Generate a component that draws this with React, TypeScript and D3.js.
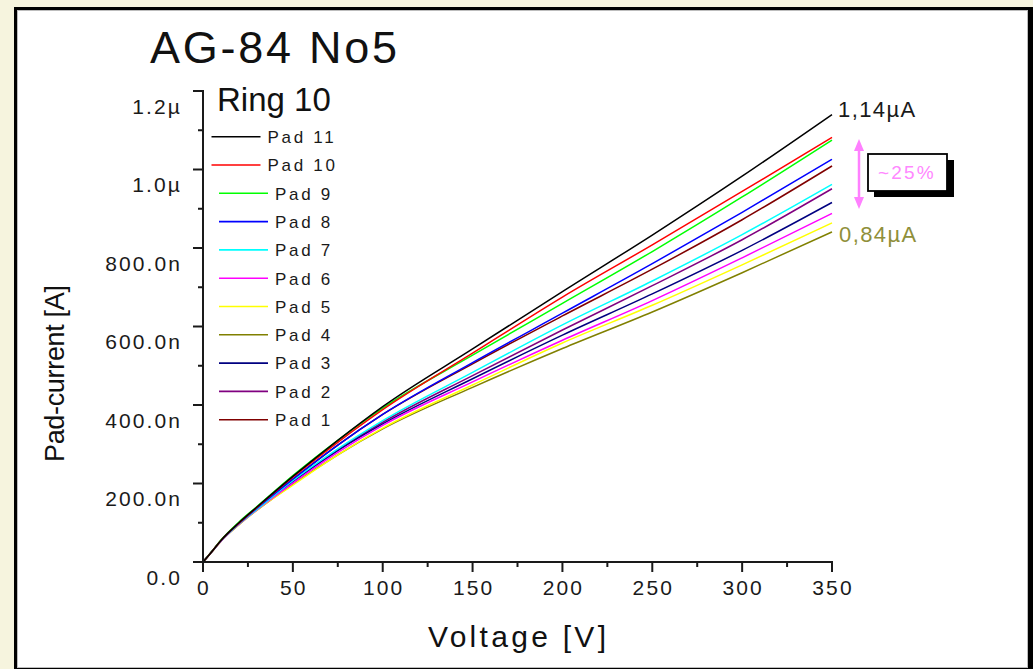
import React from "react";
import * as d3 from "d3";

const voltages = [0, 5, 10, 20, 30, 50, 75, 100, 150, 200, 250, 300, 350];

const pad11 = [0, 27, 55, 100, 140, 218, 310, 396, 543, 689, 833, 983, 1140];
const pad10 = [0, 27, 55, 99, 139, 216, 305, 388, 532, 675, 808, 944, 1082];
const pad9 = [0, 27.5, 56, 102, 141, 220, 310, 392, 527, 659, 791, 930, 1075];
const pad8 = [0, 26.7, 54.5, 98, 137, 211, 298, 376, 508, 634, 760, 891, 1026];
const pad7 = [0, 26.7, 54, 97, 134, 207, 288, 360, 483, 604, 716, 834, 962];
const pad6 = [0, 26.5, 53, 96, 133, 201, 279, 348, 459, 565, 666, 775, 888];
const pad5 = [0, 26, 53, 95, 132, 196, 273, 341, 451, 558, 654, 757, 864];
const pad4 = [0, 26.5, 53, 95, 132, 198, 273, 339, 445, 544, 637, 737, 841];
const pad3 = [0, 26.7, 54, 97, 134, 205, 284, 352, 467, 578, 683, 794, 916];
const pad2 = [0, 26.5, 54, 97, 134, 205, 285, 356, 475, 591, 704, 821, 951];
const pad1 = [0, 27, 54.5, 98, 137, 211, 298, 376, 505, 627, 746, 872, 1009];

const seriesNames = ["Pad 11", "Pad 10", "Pad 9", "Pad 8", "Pad 7", "Pad 6", "Pad 5", "Pad 4", "Pad 3", "Pad 2", "Pad 1"];
const seriesValues = [pad11, pad10, pad9, pad8, pad7, pad6, pad5, pad4, pad3, pad2, pad1];
const seriesColors = ["#000000", "#ff0000", "#00ff00", "#0000ff", "#00ffff", "#ff00ff", "#ffff00", "#808000", "#000080", "#800080", "#800000"];

const xTicks = [0, 50, 100, 150, 200, 250, 300, 350];
const xMinor = [25, 75, 125, 175, 225, 275, 325];
const yTicks = [0, 200, 400, 600, 800, 1000, 1200];
const yMinor = [100, 300, 500, 700, 900, 1100];
const yTickLabels = ["0.0", "200.0n", "400.0n", "600.0n", "800.0n", "1.0\u00b5", "1.2\u00b5"];

const FONT = "'Liberation Sans', Arial, Helvetica, sans-serif";

export default function App() {
  const W = 1033;
  const H = 669;
  const x = d3.scaleLinear().domain([0, 350]).range([203, 832]);
  const y = d3.scaleLinear().domain([0, 1200]).range([562, 91]);
  const line = d3
    .line<[number, number]>()
    .x((d) => x(d[0]))
    .y((d) => y(d[1]))
    .curve(d3.curveMonotoneX);

  const axisColor = "#1a1a1a";
  const tickFont = { fontFamily: FONT, fontSize: 21, letterSpacing: 2.1, fill: "#1a1a1a" } as const;

  const drawOrder = seriesNames.map((_, i) => i).reverse();

  return (
    <svg
      width={W}
      height={H}
      viewBox={`0 0 ${W} ${H}`}
      style={{ position: "absolute", left: 0, top: 0, display: "block" }}
    >
      <rect x={0} y={0} width={W} height={H} fill="#f6f4de" />
      {/* panel */}
      <rect x={14} y={7} width={1019} height={670} fill="#000" />
      <rect x={17} y={10} width={1011} height={658} fill="#bdbdbd" />
      <rect x={18} y={11} width={1009} height={656} fill="#ffffff" />

      {/* title */}
      <text x={150} y={63} fontFamily={FONT} fontSize={45} textLength={247} lengthAdjust="spacing" fill="#111">
        AG-84 No5
      </text>

      {/* curves */}
      {drawOrder.map((i) => (
        <path
          key={seriesNames[i]}
          d={line(voltages.map((v, k) => [v, seriesValues[i][k]] as [number, number])) || ""}
          fill="none"
          stroke={seriesColors[i]}
          strokeWidth={1.5}
          strokeLinejoin="round"
        />
      ))}

      {/* x axis */}
      <line x1={x(0) - 1} x2={x(350) + 1} y1={562} y2={562} stroke={axisColor} strokeWidth={2} />
      {xTicks.map((t) => (
        <g key={"xt" + t}>
          <line x1={x(t)} x2={x(t)} y1={562} y2={572} stroke={axisColor} strokeWidth={2} />
          <text x={x(t) + 1} y={595} textAnchor="middle" {...tickFont}>
            {t}
          </text>
        </g>
      ))}
      {xMinor.map((t) => (
        <line key={"xm" + t} x1={x(t)} x2={x(t)} y1={562} y2={567} stroke={axisColor} strokeWidth={2} />
      ))}

      {/* y axis */}
      <line x1={203} x2={203} y1={y(1200) - 1} y2={563} stroke={axisColor} strokeWidth={2} />
      {yTicks.map((t, i) => (
        <g key={"yt" + t}>
          <line x1={193} x2={203} y1={y(t)} y2={y(t)} stroke={axisColor} strokeWidth={2} />
          <text x={182} y={y(t) + 22.5} textAnchor="end" {...tickFont}>
            {yTickLabels[i]}
          </text>
        </g>
      ))}
      {yMinor.map((t) => (
        <line key={"ym" + t} x1={198} x2={203} y1={y(t)} y2={y(t)} stroke={axisColor} strokeWidth={2} />
      ))}

      {/* axis titles */}
      <text x={428} y={647} fontFamily={FONT} fontSize={30} textLength={178} lengthAdjust="spacing" fill="#111">
        Voltage [V]
      </text>
      <text
        transform="translate(64,462) rotate(-90)"
        x={0}
        y={0}
        fontFamily={FONT}
        fontSize={27}
        textLength={177}
        lengthAdjust="spacing"
        fill="#111"
      >
        Pad-current [A]
      </text>

      {/* legend */}
      <text x={217} y={111} fontFamily={FONT} fontSize={33} fill="#111">
        Ring 10
      </text>
      {seriesNames.map((name, i) => {
        const rowY = 136.7 + i * 28.3;
        const shift = (name.length - 5) * 7.5;
        const lx = 219 - shift;
        return (
          <g key={"lg" + name}>
            <line x1={lx} x2={lx + 49} y1={rowY} y2={rowY} stroke={seriesColors[i]} strokeWidth={1.6} />
            <text x={lx + 56} y={rowY + 6.3} fontFamily={FONT} fontSize={17} letterSpacing={2.7} fill="#1a1a1a">
              {name}
            </text>
          </g>
        );
      })}

      {/* annotations */}
      <text x={838} y={117} fontFamily={FONT} fontSize={22} letterSpacing={1.4} fill="#1a1a1a">
        1,14{"\u00b5"}A
      </text>
      <text x={839} y={242} fontFamily={FONT} fontSize={22} letterSpacing={1.4} fill="#8f8f3a">
        0,84{"\u00b5"}A
      </text>
      <line x1={859} x2={859} y1={146} y2={202} stroke="#ff80ff" strokeWidth={2.5} />
      <path d="M859,139 L854,151 L864,151 Z" fill="#ff80ff" />
      <path d="M859,209 L854,197 L864,197 Z" fill="#ff80ff" />
      <rect x={874} y={160} width={80} height={37} fill="#000" />
      <rect x={868} y={154} width={79} height={37} fill="#fff" stroke="#000" strokeWidth={1.8} />
      <text x={878} y={179} fontFamily={FONT} fontSize={19} letterSpacing={2.2} fill="#ff88ff">
        ~25%
      </text>
    </svg>
  );
}
